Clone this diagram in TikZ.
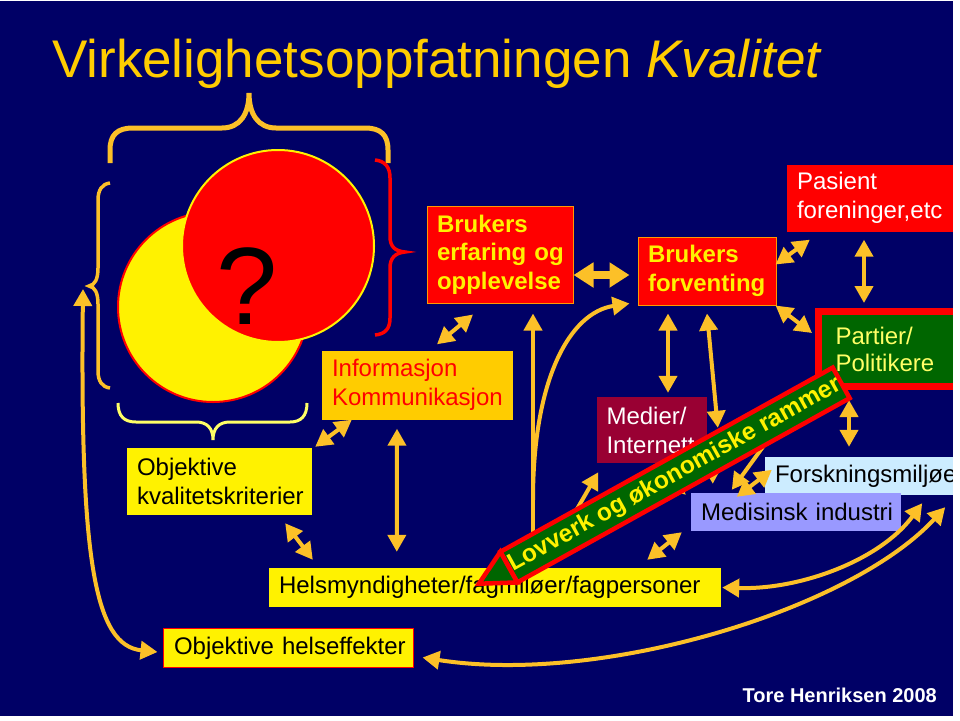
\documentclass[tikz,border=0pt]{standalone}
\usepackage{fontspec}
\setmainfont{Liberation Sans}
\usepackage{xcolor}
\usepackage{tikz}
\usetikzlibrary{calc}
\usetikzlibrary{arrows.meta}
\definecolor{slidenavy}{RGB}{0,0,102}
\definecolor{arrowgold}{RGB}{252,192,40}
\definecolor{titlegold}{RGB}{255,204,0}
\definecolor{boxorange}{RGB}{255,153,0}
\definecolor{medierred}{RGB}{153,0,51}
\definecolor{partgreen}{RGB}{0,102,0}
\definecolor{paleyellow}{RGB}{255,255,102}
\definecolor{forskblue}{RGB}{204,236,255}
\definecolor{medislilac}{RGB}{153,153,255}
\tikzstyle{slidebox} = [rectangle, inner xsep=10pt, inner ysep=0pt, align=left,
font=\fontsize{24}{29}\selectfont, execute at begin node={\hyphenpenalty=10000}]
\tikzstyle{redbox} = [slidebox, fill=red, draw=boxorange, line width=1pt, text=yellow,
font=\bfseries\fontsize{24}{28.5}\selectfont]
\tikzstyle{goldbox} = [slidebox, fill=titlegold, text=red]
\tikzstyle{yellowbox} = [slidebox, fill=yellow, text=black]
\tikzstyle{link} = [draw=arrowgold, line width=4pt, <->]
\tikzstyle{onelink} = [draw=arrowgold, line width=4pt, ->]
\tikzstyle{fatlink} = [draw=arrowgold, line width=8pt,
arrows={Triangle[length=20pt,width=24pt]-Triangle[length=20pt,width=24pt]}]
\tikzstyle{bigbrace} = [draw=arrowgold, line width=5pt]
\tikzstyle{sidebrace} = [draw=arrowgold, line width=3.5pt]
\tikzstyle{redbrace} = [draw=red, line width=3.5pt]
\tikzstyle{lowbrace} = [draw=paleyellow, line width=3pt]
\tikzstyle{banner} = [rectangle, fill=partgreen, draw=red, line width=4.5pt, inner sep=0pt,
outer sep=0pt, text=yellow, font=\bfseries\fontsize{24.5}{28}\selectfont]
\begin{document}
\begin{tikzpicture}[x=1pt, y=-1pt, >={Triangle[length=17pt,width=18pt]}]
\useasboundingbox (0,0) rectangle (960,720);
\fill[white] (0,0) rectangle (960,720);
\fill[slidenavy] (0,1) rectangle (953,716);

% title
\node[anchor=base west, inner sep=0pt, text=titlegold, font=\fontsize{53}{60}\selectfont]
    (title) at (52,77) {Virkelighetsoppfatningen \textit{Kvalitet}};

% braces
\draw[bigbrace] (110,163) -- (110,150) .. controls (110,135) and (117,128) .. (133,128)
    -- (222,128) .. controls (240,128) and (249,114) .. (249,93)
    .. controls (249,114) and (258,128) .. (276,128) -- (365,128)
    .. controls (381,128) and (388,135) .. (388,150) -- (388,163);
\draw[sidebrace] (110,183) .. controls (102,184) and (98,190) .. (98,200) -- (98,268)
    .. controls (98,279) and (95,285) .. (89,286) .. controls (95,287) and (98,293) .. (98,304)
    -- (98,371) .. controls (98,381) and (102,387) .. (110,388);
\coordinate (ltip) at (89,286);
\draw[redbrace] (375,160) .. controls (385,161) and (390,167) .. (390,178) -- (390,236)
    .. controls (390,247) and (395,251) .. (405,252) .. controls (395,253) and (390,258) .. (390,268)
    -- (390,318) .. controls (390,329) and (385,334) .. (375,335);
\draw[lowbrace] (118,403) .. controls (118,416) and (124,422) .. (136,422) -- (196,422)
    .. controls (207,422) and (213,428) .. (213,440) .. controls (213,428) and (219,422) .. (230,422)
    -- (290,422) .. controls (301,422) and (307,416) .. (307,403);

% circles
\node[circle, fill=yellow, draw=red, line width=2pt, minimum size=190pt, inner sep=0pt] (ycirc) at (213,307) {};
\node[circle, fill=red, draw=yellow, line width=2pt, minimum size=192pt, inner sep=0pt] (rcirc) at (278,246) {};
\node[inner sep=0pt, font=\fontsize{110}{115}\selectfont] (qmark) at (247,286) {?};

% boxes
\node[redbox, minimum width=146pt, minimum height=97pt, text width=126pt] (erf) at (500,254.5)
    {Brukers\\\mbox{erfaring og}\\opplevelse};
\node[redbox, minimum width=138pt, minimum height=68pt, text width=118pt] (forv) at (707,271)
    {Brukers\\forventing};
\node[goldbox, minimum width=191pt, minimum height=69pt, text width=171pt] (info) at (417.5,385)
    {Informasjon\\Kommunikasjon};
\node[slidebox, fill=medierred, text=white, minimum width=107pt, minimum height=66pt, text width=90pt]
    (medier) at (651.5,430) {Medier/\\Internett};
\node[slidebox, fill=red, text=white, minimum width=166pt, minimum height=67pt, text width=146pt]
    (pasient) at (870,198) {Pasient\\foreninger,etc};
\node[slidebox, fill=partgreen, draw=red, line width=7pt, text=paleyellow, inner xsep=15.5pt,
    minimum width=139pt, minimum height=75pt, text width=105pt, font=\fontsize{24}{27}\selectfont]
    (partier) at (888,349) {Partier/\\Politikere};
\node[slidebox, fill=forskblue, text=black, minimum width=190pt, minimum height=38pt, text width=170pt]
    (forsk) at (860,476) {Forskningsmiljøe};
\node[slidebox, fill=medislilac, text=black, minimum width=210pt, minimum height=38pt, text width=190pt]
    (medis) at (796,512) {\mbox{Medisinsk industri}};
\node[yellowbox, minimum width=452pt, minimum height=39pt, text width=432pt] (helse) at (495,587.5)
    {Helsmyndigheter/fagmiløer/fagpersoner};
\node[yellowbox, minimum width=185pt, minimum height=67pt, text width=165pt] (kval) at (219.5,481.5)
    {Objektive\\kvalitetskriterier};
\node[yellowbox, draw=red, line width=1pt, minimum width=250pt, minimum height=39pt, text width=228pt,
    inner xsep=11pt] (heff) at (288,648) {\mbox{Objektive helseffekter}};
\node[anchor=base east, inner sep=0pt, text=white, font=\bfseries\fontsize{20}{24}\selectfont]
    (author) at (937,702) {Tore Henriksen 2008};

% arrows
\draw[link] ([shift={(3,-1)}]kval.north east) -- ([shift={(30,0)}]info.south west);
\draw[link] ([shift={(19.5,-6)}]info.north) -- ([shift={(-27,11)}]erf.south);
\draw[fatlink] ([shift={(0,20.5)}]erf.east) -- ([shift={(-8,4)}]forv.west);
\draw[onelink] ([shift={(38,0)}]helse.north) -- ([shift={(33,10)}]erf.south);
\draw[onelink] ([shift={(38,-68)}]helse.north) .. controls +(0,-120) and +(-60,9) .. ([shift={(-8,-2)}]forv.south west);
\draw[link] ([shift={(-39,8)}]forv.south) -- ([shift={(16.5,-4)}]medier.north);
\draw[link] ([shift={(0,8)}]forv.south) -- ([shift={(27,-65)}]medis.north west);
\draw[onelink] ([shift={(70,-38)}]helse.north) -- ([shift={(2,9)}]medier.south west);
\draw[onelink] ([shift={(8.5,7)}]medier.south) -- ([shift={(-5,2)}]medis.north west);
\draw[onelink] ([shift={(5,145)}]forv.south) -- ([shift={(22,-9)}]medis.north west);
\draw[link] ([shift={(-74,-8)}]helse.north east) -- ([shift={(-9,1)}]medis.south west);
\draw[onelink] ([shift={(25,-47)}]forsk.north west) -- ([shift={(41,-3)}]medis.north west);
\draw[link] ([shift={(46,4)}]medis.north west) -- ([shift={(7,13)}]forsk.north west);
\draw[link] ([shift={(-1,28)}]forv.north east) -- ([shift={(23,8)}]pasient.south west);
\draw[link] ([shift={(-6,8)}]pasient.south) -- ([shift={(-24,-5)}]partier.north);
\draw[link] ([shift={(-1,0)}]forv.south east) -- ([shift={(-3,-16)}]partier.west);
\draw[link] ([shift={(-39,10)}]partier.south) -- ([shift={(-11,-10)}]forsk.north);
\draw[link] ([shift={(-20.5,9)}]info.south) -- ([shift={(128,-16)}]helse.north west);
\draw[link] ([shift={(-27,8)}]kval.south east) -- ([shift={(44,-8)}]helse.north west);
\draw[link] ([shift={(-6,3)}]ltip) .. controls +(-3,271) and +(-63,-6.5) .. ([shift={(-5,4)}]heff.west);
\draw[link] ([shift={(9,9.5)}]heff.east) .. controls +(178,28) and +(-95,103) .. ([shift={(-10,12)}]forsk.south east);
\draw[link] ([shift={(1,0)}]helse.east) .. controls +(78,2.5) and +(-42,57) .. ([shift={(-33,8)}]forsk.south east);

% banner
\node[banner, rotate=29, minimum width=380pt, minimum height=35pt] (lov) at (675,475)
    {Lovverk og økonomiske rammer};
\coordinate (lovtip) at ($(lov.west)!-0.09!(lov.east)$);
\draw[fill=partgreen, draw=red, line width=4.5pt] (lov.north west) -- (lovtip) -- (lov.south west) -- cycle;

\fill[white] (953,0) rectangle (960,720);
\end{tikzpicture}
\end{document}
